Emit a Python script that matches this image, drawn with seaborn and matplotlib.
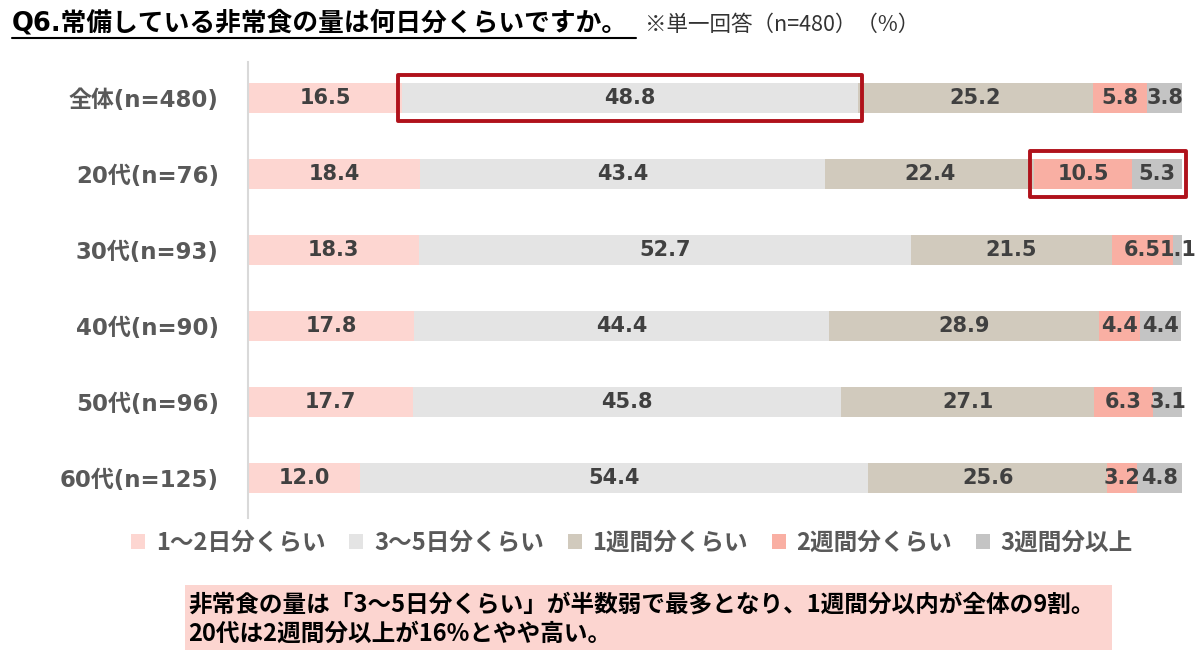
import numpy as np
import pandas as pd
import seaborn as sns
import matplotlib.pyplot as plt
from matplotlib.patches import Rectangle
from matplotlib.lines import Line2D

# data (%)
groups = ["全体(n=480)", "20代(n=76)", "30代(n=93)", "40代(n=90)", "50代(n=96)", "60代(n=125)"]
series = ["1～2日分くらい", "3～5日分くらい", "1週間分くらい", "2週間分くらい", "3週間分以上"]
days_1_2 = [16.5, 18.4, 18.3, 17.8, 17.7, 12.0]
days_3_5 = [48.8, 43.4, 52.7, 44.4, 45.8, 54.4]
week_1 = [25.2, 22.4, 21.5, 28.9, 27.1, 25.6]
week_2 = [5.8, 10.5, 6.5, 4.4, 6.3, 3.2]
week_3_plus = [3.8, 5.3, 1.1, 4.4, 3.1, 4.8]
colors = ["#FDD6D1", "#E4E4E4", "#D1CABD", "#F9AFA3", "#C4C4C4"]

title = "Q6.常備している非常食の量は何日分くらいですか。"
subtitle = "※単一回答（n=480）（%）"
note = ["非常食の量は「3～5日分くらい」が半数弱で最多となり、1週間分以内が全体の9割。",
        "20代は2週間分以上が16%とやや高い。"]

df = pd.DataFrame(
    {s: v for s, v in zip(series, [days_1_2, days_3_5, week_1, week_2, week_3_plus])},
    index=groups,
)
cum = df.cumsum(axis=1)

sns.set_theme(style="white")
plt.rcParams["font.family"] = ["DejaVu Sans", "Noto Sans CJK JP"]

W, H = 1201, 666
fig = plt.figure(figsize=(W / 100, H / 100), dpi=100)
ax = fig.add_axes([248 / W, 1 - 518 / H, (1182 - 248) / W, (518 - 62) / H])

# stacked bars: draw cumulative totals from the longest down
for i in range(len(series) - 1, -1, -1):
    sns.barplot(x=cum.iloc[:, i].values, y=groups, orient="h", color=colors[i],
                width=0.39, saturation=1, ax=ax, label=series[i], linewidth=0)

handles, labels = ax.get_legend_handles_labels()
if ax.get_legend() is not None:
    ax.get_legend().remove()

ax.set_xlim(0, 100)
ax.set_ylim(5.526, -0.474)
ax.set_xticks([])
ax.set_xlabel("")
ax.set_ylabel("")
for side in ["top", "right", "bottom"]:
    ax.spines[side].set_visible(False)
ax.spines["left"].set_color("#D9D9D9")
ax.spines["left"].set_linewidth(1.5)
ax.tick_params(axis="y", length=0, pad=21)
for lab in ax.get_yticklabels():
    lab.set_fontsize(16.5)
    lab.set_fontweight("bold")
    lab.set_color("#595959")
    lab.set_family(["DejaVu Sans", "Noto Sans CJK JP"])

# segment value labels
for r, g in enumerate(groups):
    for c, s in enumerate(series):
        v = df.loc[g, s]
        start = cum.iloc[r, c] - v
        ax.text(start + v / 2, r, f"{v:.1f}", ha="center", va="center",
                fontsize=15, fontweight="bold", color="#404040")

# highlight boxes
def highlight(row, c0, c1, padx=0.45, pady=0.3):
    x0 = cum.iloc[row, c0] - df.iloc[row, c0] - padx
    x1 = cum.iloc[row, c1] + padx
    ax.add_patch(Rectangle((x0, row - pady), x1 - x0, 2 * pady, fill=False,
                           edgecolor="#B0121B", linewidth=2.8, clip_on=False,
                           zorder=5, joinstyle="round"))

highlight(0, 1, 1)
highlight(1, 3, 4)

# legend
order = [labels.index(s) for s in series]
leg = fig.legend([handles[i] for i in order], [labels[i] for i in order],
                 loc="center", bbox_to_anchor=(632 / W, 1 - 543 / H), ncol=5,
                 frameon=False, handlelength=0.6, handleheight=0.6,
                 handletextpad=0.45, columnspacing=1.0,
                 prop={"family": ["Noto Sans CJK JP"], "weight": "bold", "size": 17})
for t in leg.get_texts():
    t.set_color("#595959")

# title with underline
fig.text(12 / W, 1 - 24 / H, title, ha="left", va="center", fontsize=18.5,
         fontweight="bold", color="black", family=["DejaVu Sans", "Noto Sans CJK JP"])
fig.add_artist(Line2D([12 / W, 636 / W], [1 - 38 / H, 1 - 38 / H],
                      color="black", linewidth=1.5, transform=fig.transFigure))
fig.text(645 / W, 1 - 25 / H, subtitle, ha="left", va="center", fontsize=15.5,
         color="#333333", family=["Noto Sans CJK JP"])

# note box
fig.add_artist(Rectangle((185 / W, 1 - 650 / H), (1112 - 185) / W, 65 / H,
                         facecolor="#FCD5D0", edgecolor="none",
                         transform=fig.transFigure))
for k, line in enumerate(note):
    fig.text(188 / W, 1 - (605 + 29 * k) / H, line, ha="left", va="center",
             fontsize=17, fontweight="bold", color="black",
             family=["Noto Sans CJK JP"])

fig.savefig("out.png", dpi=100)
